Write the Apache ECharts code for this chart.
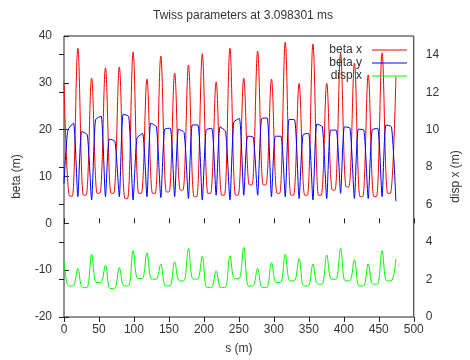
<!DOCTYPE html>
<html>
<head>
<meta charset="utf-8">
<script src="https://cdn.jsdelivr.net/npm/echarts@6/dist/echarts.min.js"></script>
<style>
	html, body { margin: 0; padding: 0; background: #fff; }
	#chart { width: 470px; height: 360px; }
</style>
</head>
<body>
<div id="chart"></div>
<script>
// s (m) of each quadrupole, where beta x peaks
const quadS = [ 0, 19.8, 39.5, 59.3, 79.1, 98.8, 118.6, 138.4, 158.2, 177.9, 197.7, 217.5,
	237.2, 257.0, 276.8, 296.6, 316.3, 336.1, 355.9, 375.6, 395.4, 415.2, 434.9, 454.7, 474.5 ];

// beta x: peak at each quad, valley inside each cell
const betaXPeak = [ 30.0, 37.4, 31.0, 33.2, 33.4, 36.6, 30.8, 35.7, 32.1, 33.8, 36.2, 30.2,
	37.4, 31.0, 36.8, 30.8, 38.7, 29.9, 38.3, 29.9, 36.3, 34.2, 31.7, 36.4, 31.3 ];
const betaXValley = [ 5.8, 6.0, 6.4, 6.4, 5.3, 6.4, 6.4, 6.7, 7.1, 5.7, 6.4, 6.0,
	6.0, 8.2, 8.2, 6.4, 6.0, 6.0, 6.0, 7.1, 7.8, 5.7, 5.7, 6.4 ];

// beta y: low at each quad, plateau inside each cell
const betaYLow = [ 8.5, 5.7, 5.0, 5.7, 5.7, 5.0, 5.7, 5.5, 5.7, 5.3, 5.0, 6.0,
	5.0, 6.0, 6.0, 5.7, 5.7, 5.3, 5.0, 5.3, 6.4, 5.3, 5.3, 5.7, 4.7 ];
const betaYTopIn = [ 19.9, 19.6, 22.1, 18.0, 23.3, 18.2, 21.4, 20.1, 20.1, 21.0, 19.9, 20.6,
	21.6, 18.6, 22.3, 18.6, 22.2, 18.9, 21.2, 19.9, 20.6, 20.1, 19.9, 21.0 ];
const betaYTopOut = [ 21.4, 18.9, 22.9, 17.5, 22.8, 19.2, 20.6, 20.3, 19.4, 21.0, 20.3, 19.6,
	22.4, 18.4, 22.5, 18.6, 22.1, 19.2, 20.6, 19.9, 20.3, 19.9, 20.3, 20.6 ];

// disp x: peak at each quad, low inside each cell
const dispPeak = [ 3.06, 2.59, 3.36, 2.77, 2.64, 3.54, 3.42, 2.83, 2.95, 3.66, 3.23, 2.47,
	3.27, 3.72, 2.59, 2.91, 3.36, 3.13, 2.83, 3.31, 3.66, 3.06, 2.83, 3.54, 3.09 ];
const dispLow = [ 1.66, 1.57, 1.84, 1.52, 1.66, 2.05, 2.02, 1.66, 1.93, 2.02, 1.57, 1.57,
	2.05, 1.66, 1.57, 1.84, 1.93, 1.66, 1.75, 2.02, 1.93, 1.66, 1.75, 1.93 ];

// where inside a cell (m after the quad) the inner readings were taken
const betaXValleyAt = [ 8, 11.8 ];
const betaYTopAt = [ 5.5, 13.5 ];
const dispLowAt = [ 6.5, 13 ];

function cellPoints( edge, innerAt, inner ) {
	const pts = [];
	quadS.forEach( ( s, k ) => {
		pts.push( [ s, edge[ k ] ] );
		if ( k < quadS.length - 1 ) {
			innerAt.forEach( ( d, j ) => pts.push( [ +( s + d ).toFixed( 2 ), inner[ j ][ k ] ] ) );
		}
	} );
	return pts;
}

const font = 'Liberation Sans, Arial, sans-serif';
const ink = '#333';

const chart = echarts.init( document.getElementById( 'chart' ), null, { renderer: 'canvas' } );

chart.setOption( {
	animation: false,
	backgroundColor: '#fff',
	textStyle: { fontFamily: font, color: ink },
	title: {
		text: 'Twiss parameters at 3.098301 ms',
		left: 148,
		top: 5,
		textStyle: { fontSize: 12, fontWeight: 'normal', color: ink, fontFamily: font }
	},
	legend: {
		orient: 'vertical',
		right: 58,
		top: 39,
		itemGap: 1,
		itemWidth: 35,
		itemHeight: 1,
		icon: 'rect',
		align: 'right',
		textStyle: { fontSize: 12, color: ink, fontFamily: font, width: 40, align: 'right', padding: [ 0, 5, 0, 0 ] },
		data: [ 'beta x', 'beta y', 'disp x' ]
	},
	grid: {
		left: 64, right: 49, top: 36, bottom: 43,
		show: true, borderColor: '#222', borderWidth: 1
	},
	xAxis: [ {
		type: 'value', min: 0, max: 500, interval: 50,
		name: 's (m)', nameLocation: 'middle', nameGap: 26,
		nameTextStyle: { fontSize: 12, color: ink },
		axisLine: { show: false },
		axisTick: { inside: true, length: 5, lineStyle: { color: '#222' } },
		axisLabel: { fontSize: 12, color: ink, margin: 7 },
		splitLine: { show: false }
	}, {
		type: 'value', position: 'top', min: 0, max: 500, interval: 50,
		axisLine: { show: false },
		axisTick: { inside: true, length: 5, lineStyle: { color: '#222' } },
		axisLabel: { show: false },
		splitLine: { show: false }
	} ],
	yAxis: [ {
		type: 'value', min: -20, max: 40, interval: 10,
		name: 'beta (m)', nameLocation: 'middle', nameGap: 41,
		nameTextStyle: { fontSize: 12, color: ink },
		axisLine: { show: false },
		axisTick: { inside: true, length: 5, lineStyle: { color: '#222' } },
		axisLabel: { fontSize: 12, color: ink, margin: 12 },
		splitLine: { show: false }
	}, {
		type: 'value', position: 'right', min: 0, max: 15, interval: 2,
		name: 'disp x (m)', nameLocation: 'middle', nameGap: 35,
		nameTextStyle: { fontSize: 12, color: ink },
		axisLine: { show: false },
		axisTick: { inside: true, length: 5, lineStyle: { color: '#222' } },
		axisLabel: { fontSize: 12, color: ink, margin: 12, showMaxLabel: false },
		splitLine: { show: false }
	} ],
	series: [ {
		name: 'beta x', type: 'line', symbol: 'none', smooth: 0.35,
		color: '#ff0000', lineStyle: { width: 1 },
		data: cellPoints( betaXPeak, betaXValleyAt, [ betaXValley, betaXValley ] )
	}, {
		name: 'beta y', type: 'line', symbol: 'none', smooth: 0.2,
		color: '#0000ff', lineStyle: { width: 1 },
		data: cellPoints( betaYLow, betaYTopAt, [ betaYTopIn, betaYTopOut ] )
	}, {
		name: 'disp x', type: 'line', symbol: 'none', smooth: 0.35, yAxisIndex: 1,
		color: '#00ff00', lineStyle: { width: 1 },
		data: cellPoints( dispPeak, dispLowAt, [ dispLow, dispLow ] )
	} ]
} );
</script>
</body>
</html>
